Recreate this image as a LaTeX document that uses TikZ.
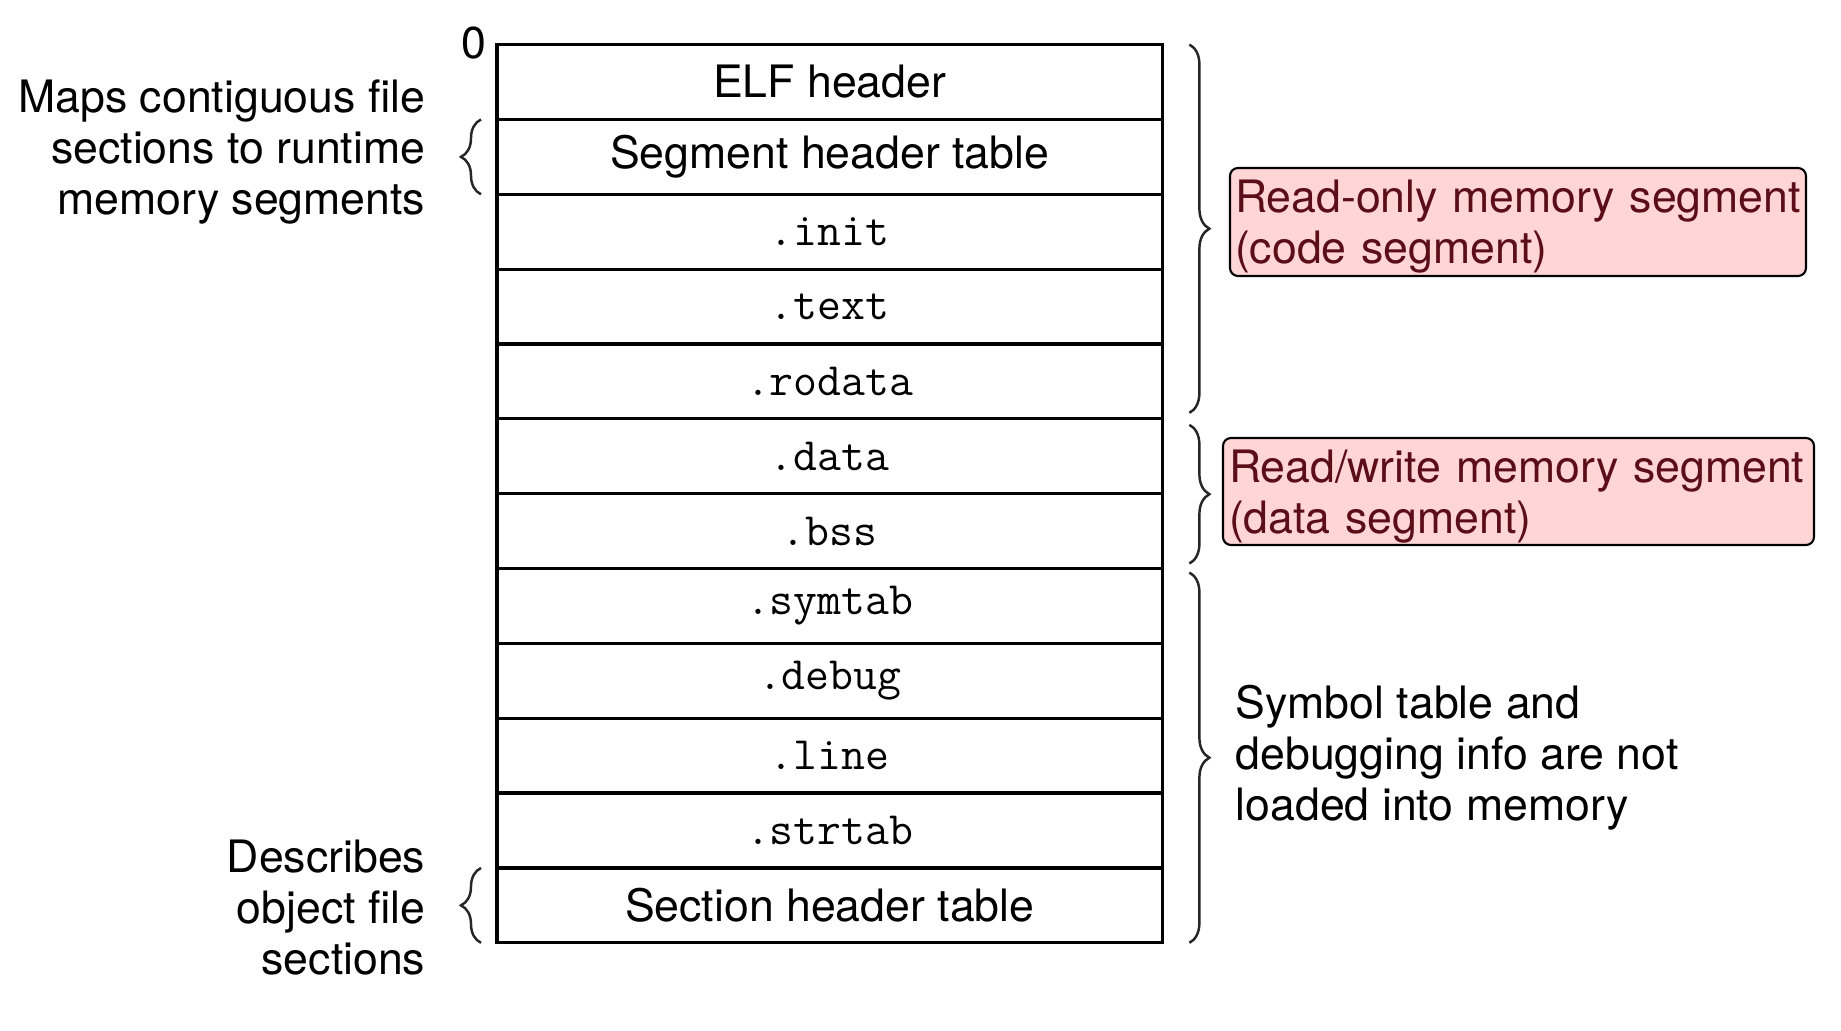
\documentclass[tikz,border=0pt]{standalone}
\usepackage{fontspec}
\setmainfont{TeX Gyre Heros}
\usetikzlibrary{calc}
\usetikzlibrary{decorations.pathreplacing}
\definecolor{segpink}{RGB}{255, 213, 213}
\definecolor{segtext}{RGB}{92, 14, 24}

\begin{document}
\begin{tikzpicture}[
    sect/.style={draw, line width=0.9pt, minimum width=6.654cm, minimum height=0.7485cm, inner sep=0pt, outer sep=0pt, font=\fontsize{13.2}{15}\selectfont\ttfamily},
    sectsf/.style={sect, font=\fontsize{12.7}{14.5}\selectfont},
    note/.style={inner sep=0pt, font=\fontsize{12.7}{14.5}\selectfont},
    segbox/.style={draw, line width=0.6pt, fill=segpink, rounded corners=0.08cm, text=segtext, align=left, inner ysep=0pt, text depth=14.5pt, font=\fontsize{12.7}{14.5}\selectfont},
    rbrace/.style={decorate, decoration={brace, amplitude=0.2cm}, line width=0.7pt, draw=black!85}
]
        \useasboundingbox (0,0) rectangle (18.41,10.31);
        % セクションの並び（上から下へ）
        \node[sectsf] (elf)    at (8.297, 9.490) {ELF header};
        \node[sectsf] (segtab) at (8.297, 8.741) {Segment header table};
        \node[sect]   (init)   at (8.297, 7.993) {.init};
        \node[sect]   (text)   at (8.297, 7.244) {.text};
        \node[sect]   (rodata) at (8.297, 6.496) {.rodata};
        \node[sect]   (data)   at (8.297, 5.747) {.data};
        \node[sect]   (bss)    at (8.297, 4.999) {.bss};
        \node[sect]   (symtab) at (8.297, 4.250) {.symtab};
        \node[sect]   (debug)  at (8.297, 3.502) {.debug};
        \node[sect]   (line)   at (8.297, 2.753) {.line};
        \node[sect]   (strtab) at (8.297, 2.005) {.strtab};
        \node[sectsf] (sectab) at (8.297, 1.256) {Section header table};
        % 先頭のオフセット
        \node[note] (zero) at (4.74, 9.88) {0};
        % 左側の説明
        \node[note, anchor=east, align=right] (mapslabel) at (4.26, 8.785) {Maps contiguous file\\sections to runtime\\memory segments};
        \node[note, anchor=east, align=right] (desclabel) at (4.26, 1.235) {Describes\\object file\\sections};
        \draw[rbrace] ([xshift=-0.16cm]segtab.south west) -- ([xshift=-0.16cm]segtab.north west);
        \draw[rbrace] ([xshift=-0.16cm]sectab.south west) -- ([xshift=-0.16cm]sectab.north west);
        % 右側の括弧
        \draw[rbrace] ([xshift=0.27cm]elf.north east) -- ([xshift=0.27cm, yshift=0.06cm]rodata.south east);
        \draw[rbrace] ([xshift=0.27cm, yshift=-0.06cm]data.north east) -- ([xshift=0.27cm, yshift=0.05cm]bss.south east);
        \draw[rbrace] ([xshift=0.27cm, yshift=-0.04cm]symtab.north east) -- ([xshift=0.27cm]sectab.south east);
        % セグメントの説明
        \node[segbox, minimum width=5.76cm, minimum height=1.08cm, inner xsep=0.05cm, text width=5.66cm] (rolabel) at (15.18, 8.09) {Read-only memory segment\\(code segment)};
        \node[segbox, minimum width=5.91cm, minimum height=1.07cm, inner xsep=0.06cm, text width=5.79cm] (rwlabel) at (15.185, 5.395) {Read/write memory segment\\(data segment)};
        \node[note, anchor=west, align=left] (symlabel) at (12.35, 2.733) {Symbol table and\\debugging info are not\\loaded into memory};
    \end{tikzpicture}
\end{document}
